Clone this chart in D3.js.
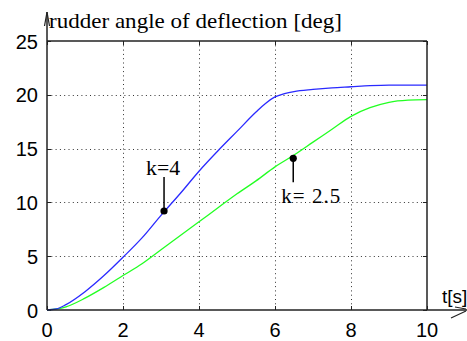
<!DOCTYPE html>
<html><head><meta charset="utf-8">
<script src="https://cdn.jsdelivr.net/npm/d3@7"></script>
<style>body{margin:0;background:#fff}svg{display:block}</style>
</head><body><svg id="c" width="467" height="341"></svg>
<script>
const timeK4 = [0,0.25,0.5,1,1.5,2,2.5,3,3.5,4,4.5,5,5.5,5.75,6,6.25,6.5,7,7.5,8,8.5,9,10];
const angleK4 = [0,0.1,0.5,1.7,3.2,4.9,6.7,8.8,10.8,12.9,14.8,16.6,18.4,19.2,19.8,20.1,20.3,20.5,20.65,20.75,20.85,20.9,20.9];
const timeK25 = [0,0.25,0.5,1,1.5,2,2.5,3,3.5,4,4.5,5,5.5,6,6.5,7,7.5,8,8.5,9,9.5,10];
const angleK25 = [0,0.1,0.3,1.1,2.1,3.2,4.3,5.6,6.9,8.2,9.5,10.8,12.0,13.3,14.4,15.6,16.8,18.0,18.8,19.3,19.5,19.55];
const markerK4 = {t:3.08, v:9.2, label:"k=4"};
const markerK25 = {t:6.48, v:14.1, label:"k= 2.5"};
const xTicks = [0,2,4,6,8,10];
const yTicks = [0,5,10,15,20,25];
const titleText = "rudder angle of deflection [deg]";
const xLabel = "t[s]";

const svg = d3.select("#c");
const L=47, R=427, T=41, B=310;
const x = d3.scaleLinear().domain([0,10]).range([L,R]);
const y = d3.scaleLinear().domain([0,25]).range([B,T]);
const axisColor = "#222";

// grid
const g = svg.append("g");
g.selectAll(".gx").data(xTicks.filter(d=>d>0&&d<10)).join("line")
  .attr("x1",d=>x(d)+0.5).attr("x2",d=>x(d)+0.5).attr("y1",T).attr("y2",B)
  .attr("stroke","#333").attr("stroke-width",1).attr("stroke-dasharray","1,3.3");
g.selectAll(".gy").data(yTicks.filter(d=>d>0&&d<25)).join("line")
  .attr("y1",d=>Math.round(y(d))+0.5).attr("y2",d=>Math.round(y(d))+0.5).attr("x1",L).attr("x2",R)
  .attr("stroke","#333").attr("stroke-width",1).attr("stroke-dasharray","1,3.3");

// inner ticks
const tk = svg.append("g").attr("stroke",axisColor).attr("stroke-width",1);
xTicks.forEach(d=>{
  tk.append("line").attr("x1",x(d)+0.5).attr("x2",x(d)+0.5).attr("y1",B).attr("y2",B-4);
  tk.append("line").attr("x1",x(d)+0.5).attr("x2",x(d)+0.5).attr("y1",T).attr("y2",T+4);
});
yTicks.forEach(d=>{
  const yy=Math.round(y(d))+0.5;
  tk.append("line").attr("x1",L).attr("x2",L+4).attr("y1",yy).attr("y2",yy);
  tk.append("line").attr("x1",R).attr("x2",R-4).attr("y1",yy).attr("y2",yy);
});

// curves
const line = d3.line().x(d=>x(d[0])).y(d=>y(d[1])).curve(d3.curveMonotoneX);
svg.append("path").datum(timeK25.map((t,i)=>[t,angleK25[i]]))
  .attr("d",line).attr("fill","none").attr("stroke","#22ff22").attr("stroke-width",1.3);
svg.append("path").datum(timeK4.map((t,i)=>[t,angleK4[i]]))
  .attr("d",line).attr("fill","none").attr("stroke","#2a2aff").attr("stroke-width",1.3);

// frame
const fr = svg.append("g").attr("stroke",axisColor).attr("stroke-width",1.5).attr("fill","none");
fr.append("line").attr("x1",L).attr("x2",R).attr("y1",T).attr("y2",T);
fr.append("line").attr("x1",R).attr("x2",R).attr("y1",T).attr("y2",B);
fr.append("line").attr("x1",L).attr("x2",L).attr("y1",B).attr("y2",12);
fr.append("line").attr("x1",L).attr("x2",467).attr("y1",B).attr("y2",B);
// arrowheads
fr.append("path").attr("d",`M${L-2.5},${26} L${L},${12} L${L+2.5},${26}`).attr("stroke-width",1.2);
fr.append("path").attr("d",`M451,318 L466,311 M455,307 L466,309`).attr("stroke-width",1.2);

// markers
const mk = svg.append("g");
[[markerK4, -1],[markerK25, 1]].forEach(([m,dir])=>{
  const cx=x(m.t), cy=y(m.v);
  mk.append("line").attr("x1",cx).attr("x2",cx).attr("y1",cy)
    .attr("y2", dir<0 ? cy-34 : cy+24).attr("stroke","#000").attr("stroke-width",1.5);
  mk.append("circle").attr("cx",cx).attr("cy",cy).attr("r",3.6).attr("fill","#000");
});
svg.append("text").attr("x",x(markerK4.t)-18).attr("y",y(markerK4.v)-36)
  .attr("font-family","Liberation Serif").attr("font-size",21)
  .attr("textLength",34).attr("lengthAdjust","spacingAndGlyphs").text(markerK4.label);
svg.append("text").attr("x",x(markerK25.t)-12).attr("y",y(markerK25.v)+45)
  .attr("font-family","Liberation Serif").attr("font-size",21)
  .attr("textLength",59).text(markerK25.label);

// tick labels
const tf = "Liberation Sans";
svg.selectAll(".xl").data(xTicks).join("text")
  .attr("x",d=>x(d)).attr("y",337).attr("text-anchor","middle")
  .attr("font-family",tf).attr("font-size",20).attr("fill","#000").text(d=>d);
svg.selectAll(".yl").data(yTicks).join("text")
  .attr("x",38).attr("y",d=>y(d)+7.5).attr("text-anchor","end")
  .attr("font-family",tf).attr("font-size",20).attr("fill","#000").text(d=>d);

svg.append("text").attr("x",49).attr("y",28).attr("font-family","Liberation Serif")
  .attr("font-size",22).attr("textLength",293).attr("lengthAdjust","spacingAndGlyphs").text(titleText);
svg.append("text").attr("x",442).attr("y",303).attr("font-family",tf)
  .attr("font-size",19).text(xLabel);
</script></body></html>
